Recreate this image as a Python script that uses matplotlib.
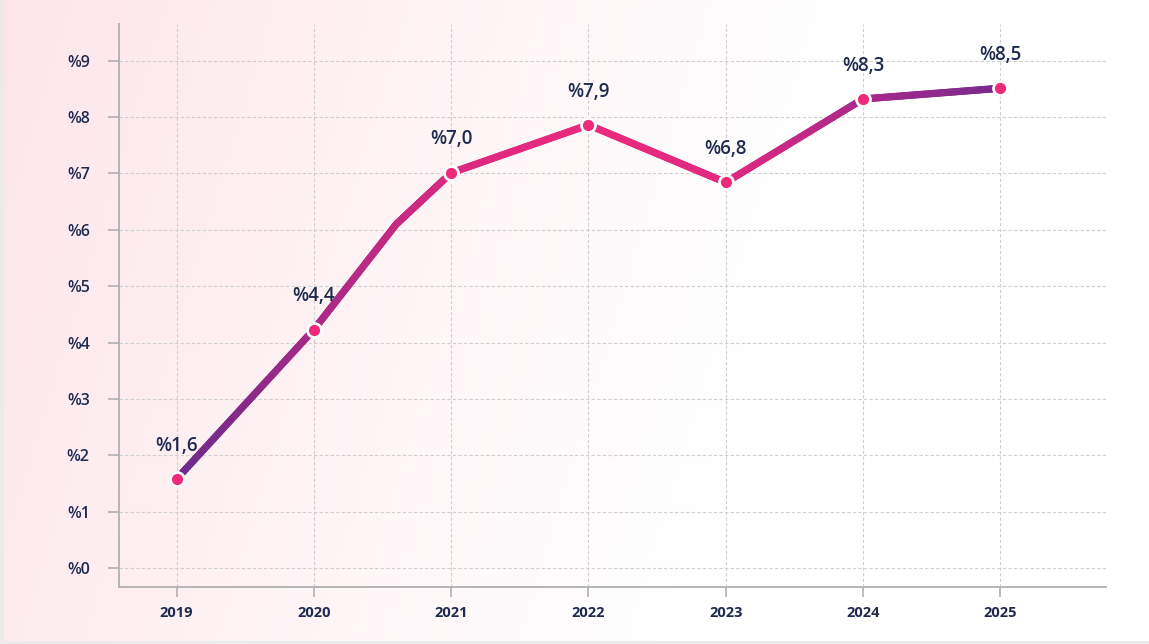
import numpy as np
import matplotlib
matplotlib.use("Agg")
import matplotlib.pyplot as plt
from matplotlib.collections import LineCollection
from matplotlib.colors import LinearSegmentedColormap, to_rgb

# ---------------- data ----------------
years = ["2019", "2020", "2021", "2022", "2023", "2024", "2025"]
values = [1.58, 4.23, 7.01, 7.86, 6.84, 8.32, 8.51]
value_labels = ["%1,6", "%4,4", "%7,0", "%7,9", "%6,8", "%8,3", "%8,5"]
# unmarked bend in the line between 2020 and 2021 (x index, value)
bend_x = 1.6
bend_y = 6.1
y_ticks = [0, 1, 2, 3, 4, 5, 6, 7, 8, 9]
y_tick_labels = ["%0", "%1", "%2", "%3", "%4", "%5", "%6", "%7", "%8", "%9"]

TEXT = "#1e2b4f"
W, H = 1149, 644
fig = plt.figure(figsize=(W / 100, H / 100), dpi=100)
fig.patch.set_facecolor("#ebebeb")

# background gradient panel
bg = fig.add_axes([4 / W, 3 / H, (W - 4) / W, (H - 3) / H])
bg.set_axis_off()
nx, ny = 400, 240
xx, yy = np.meshgrid(np.linspace(4, W, nx), np.linspace(0, H - 3, ny))
t = np.clip((xx + 0.3 * yy) / 850.0, 0, 1)[..., None]
c0 = np.array(to_rgb("#fde6eb"))
c1 = np.array([1.0, 1.0, 1.0])
img = c0 * (1 - t) + c1 * t
bg.imshow(img, aspect="auto", extent=[0, 1, 0, 1], origin="upper")
bg.set_xlim(0, 1)
bg.set_ylim(0, 1)

ax = fig.add_axes([119 / W, 1 - 587 / H, (1106 - 119) / W, (587 - 24) / H])
ax.patch.set_alpha(0)

x = np.arange(len(years), dtype=float)
px = np.insert(x, 2, bend_x)
py = np.insert(np.array(values, dtype=float), 2, bend_y)

# gradient line
cmap = LinearSegmentedColormap.from_list(
    "lg",
    [(0.0, "#6c2a8b"), (1 / 6, "#a62a86"), (2 / 6, "#d92a80"), (3 / 6, "#ea2a7d"),
     (4 / 6, "#e2297f"), (5 / 6, "#a9298a"), (1.0, "#7a2a8e")],
)
fx, fy = [], []
for i in range(len(px) - 1):
    s = np.linspace(0, 1, 60, endpoint=False)
    fx.extend(px[i] + (px[i + 1] - px[i]) * s)
    fy.extend(py[i] + (py[i + 1] - py[i]) * s)
fx.append(px[-1]); fy.append(py[-1])
fx = np.array(fx); fy = np.array(fy)
pts = np.column_stack([fx, fy]).reshape(-1, 1, 2)
segs = np.concatenate([pts[:-1], pts[1:]], axis=1)
lc = LineCollection(segs, colors=cmap(fx[:-1] / x[-1]), linewidths=5.2,
                    capstyle="round", joinstyle="round", zorder=3)
ax.add_collection(lc)

# markers
ax.plot(x, values, "o", ms=12, mfc="#cfcfcf", mec="none", alpha=0.5, zorder=4)
ax.plot(x, values, "o", ms=10, mfc="#ee2a7b", mec="white", mew=1.9, zorder=5)

for xi, v, lab in zip(x, values, value_labels):
    ax.annotate(lab, (xi, v), xytext=(0, 24), textcoords="offset points",
                ha="center", va="center", fontsize=13.5, color=TEXT,
                family="Open Sans", weight="semibold", zorder=6)

ax.set_xlim(-0.42, 6.77)
ax.set_ylim(-0.337, 9.65)
ax.set_xticks(x)
ax.set_xticklabels(years)
ax.set_yticks(y_ticks)
ax.set_yticklabels(y_tick_labels)

ax.grid(True, color="#cfcfcf", linestyle=(0, (3, 2)), linewidth=0.8, zorder=1)
ax.set_axisbelow(True)
for s in ["top", "right"]:
    ax.spines[s].set_visible(False)
for s in ["left", "bottom"]:
    ax.spines[s].set_color("#b0b0b0")
    ax.spines[s].set_linewidth(1.3)

ax.tick_params(axis="y", length=8, width=1.2, color="#b0b0b0", pad=13,
               labelsize=11.5, labelcolor=TEXT)
ax.tick_params(axis="x", length=7, width=1.2, color="#b0b0b0", pad=7,
               labelsize=10.5, labelcolor=TEXT)
for lab in ax.get_yticklabels():
    lab.set_family("Open Sans"); lab.set_weight("semibold")
for lab in ax.get_xticklabels():
    lab.set_family("Open Sans"); lab.set_weight("bold")

fig.savefig("out.png", dpi=100, facecolor=fig.get_facecolor())
